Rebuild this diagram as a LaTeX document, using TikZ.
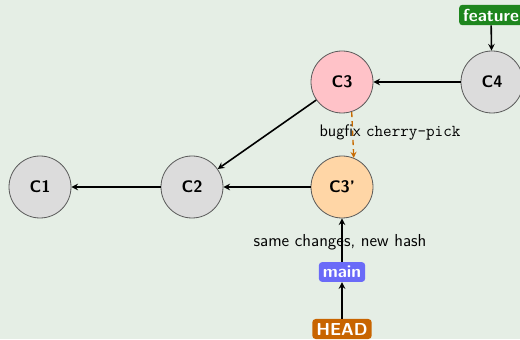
\documentclass[tikz,border=0pt]{standalone}
\usepackage{tikz}
\usetikzlibrary{calc}
\usetikzlibrary{arrows}
\usepackage{xcolor}

\definecolor{bgcol}{HTML}{E5EEE5}
\definecolor{commitgray}{HTML}{DCDCDC}
\definecolor{commitpink}{HTML}{FFC2C8}
\definecolor{commitpeach}{HTML}{FFD6A6}
\definecolor{branchblue}{HTML}{6A6AF8}
\definecolor{branchgreen}{HTML}{1E861E}
\definecolor{headorange}{HTML}{C86400}
\definecolor{pickorange}{HTML}{C86A00}

\begin{document}
\begin{tikzpicture}[x=0.75pt, y=0.75pt]
  \tikzstyle{commit} = [draw=black!65, circle, minimum size=46.5pt, inner sep=0pt,
  font=\sffamily\bfseries\fontsize{12.5}{15}\selectfont, line width=0.6pt]
  \tikzstyle{label} = [rounded corners=2.5pt, inner sep=3pt, text=white,
  font=\sffamily\bfseries\fontsize{13}{15}\selectfont] % branch and HEAD tags
  \tikzstyle{link} = [-stealth, line width=1.2pt]
  \tikzstyle{note} = [font=\sffamily\fontsize{13}{15}\selectfont]

  % background, same size as the reference
  \fill[bgcol] (0,0) rectangle (520,339);
  \useasboundingbox (0,0) rectangle (520,339);

\node[commit, fill=commitgray] (c1) at (40,152) {C1};
\node[commit, fill=commitgray] (c2) at (192,152) {C2};
\node[commit, fill=commitpeach] (c3p) at (342,152) {C3'};
\node[commit, fill=commitpink] (c3) at (342,257) {C3};
\node[commit, fill=commitgray] (c4) at (492,257) {C4};

\node[label, fill=branchgreen] (feature) at (491,324) {feature};
\node[label, fill=branchblue] (main) at (342,67) {main};
\node[label, fill=headorange] (head) at (342,10) {HEAD};

\draw[link] (c2) -- (c1);
\draw[link] (c3p) -- (c2);
\draw[link] (c3) -- (c2);
\draw[link] (c4) -- (c3);
\draw[link] (feature) -- (c4);
\draw[link] (main) -- (c3p);
\draw[link] (head) -- (main);

\draw[-stealth, dash pattern=on 4pt off 3pt, pickorange, line width=1pt] (c3.-72) -- (c3p.68);

\node[note, font=\sffamily\fontsize{12.5}{15}\selectfont] (pick) at (390,206) {bugfix \texttt{cherry-pick}};
\node[note] (same) at (340,97) {same changes, new hash};

\end{tikzpicture}
\end{document}
